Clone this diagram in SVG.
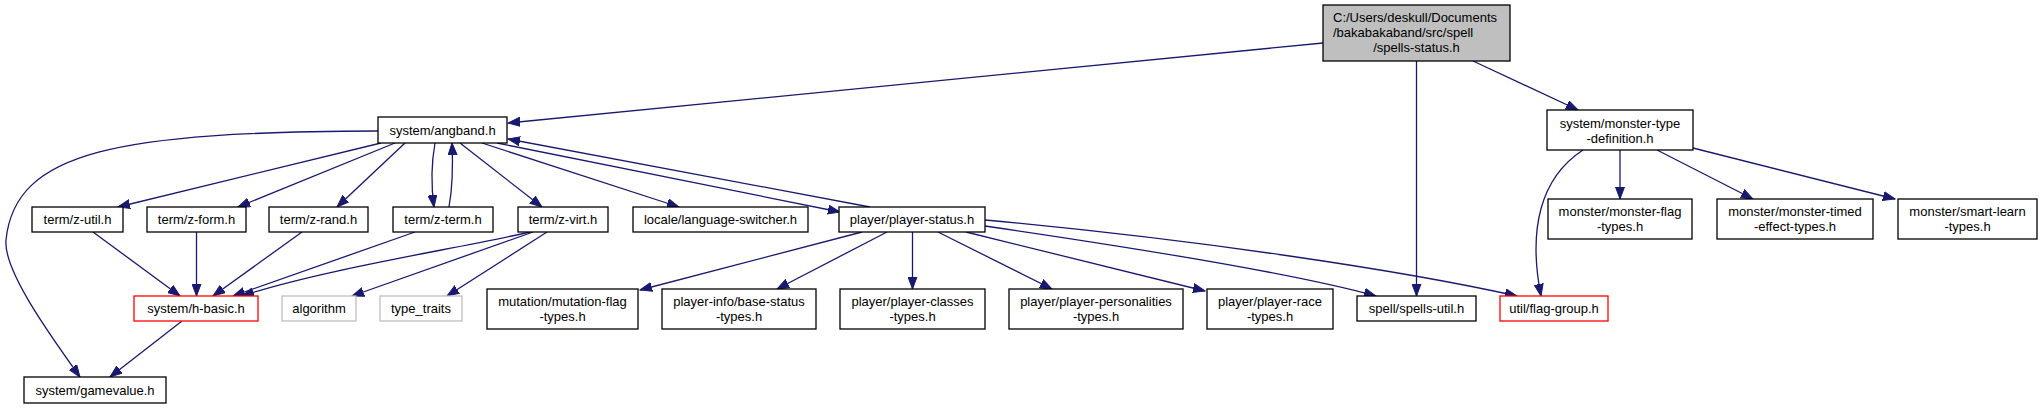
<svg xmlns="http://www.w3.org/2000/svg" width="2042" height="409" viewBox="0 0 2042 409">
<style>
.n rect{fill:#fff;stroke:#000;stroke-width:1.3}
.n.root rect{fill:#bfbfbf}
.n.red rect{stroke:#ff0000}
.n.grey rect{stroke:#bfbfbf}
text{font-family:"Liberation Sans",Arial,sans-serif;font-size:13px;fill:#000;text-anchor:middle}
text.l{text-anchor:start}
.e path{fill:none;stroke:#191970;stroke-width:1.3;marker-end:url(#a)}
</style>
<defs>
<marker id="a" markerUnits="userSpaceOnUse" markerWidth="13" markerHeight="10" refX="12" refY="5" orient="auto">
<path d="M0,0.5 L12,5 L0,9.5 z" fill="#191970" stroke="#191970" stroke-width="1"/>
</marker>
</defs>
<rect width="2042" height="409" fill="#fff"/>
<g class="e" id="connectors">
<path d="M1323,43 L508,123"/>
<path d="M1473,61 L1578,110"/>
<path d="M1416.5,61 L1416.5,296"/>
<path d="M378,131 C120,132 15,150 6,240 C3,270 50,335 80,377"/>
<path d="M381,143 L118,207"/>
<path d="M395,143 L238,207"/>
<path d="M405,143 L337,207"/>
<path d="M435,143 C431,165 431,185 434,207"/>
<path d="M449,207 C453,185 453,165 452,143"/>
<path d="M460,143 L542,207"/>
<path d="M482,143 L679,207"/>
<path d="M497,143 L840,212"/>
<path d="M870,207 L508,139"/>
<path d="M93,232 L180,296"/>
<path d="M196.5,232 L196.5,296"/>
<path d="M302,232 L213,296"/>
<path d="M415,232 L233,296"/>
<path d="M530,232 C450,250 320,270 242,296"/>
<path d="M533,232 L352,296"/>
<path d="M547,232 L447,296"/>
<path d="M182,321 L110,377"/>
<path d="M862,232 L640,290"/>
<path d="M887,232 L777,289"/>
<path d="M912.5,232 L912.5,289"/>
<path d="M938,232 L1052,289"/>
<path d="M966,232 L1205,291"/>
<path d="M985,226 C1150,250 1300,275 1376,296"/>
<path d="M985,220 C1200,240 1400,270 1517,296"/>
<path d="M1583,150 C1540,178 1528,230 1541,296"/>
<path d="M1620,150 L1620,199"/>
<path d="M1657,150 L1753,199"/>
<path d="M1693,148 L1895,199"/>
</g>
<g class="n root" id="node-root"><rect x="1323" y="5" width="187" height="56"/><text class="l" x="1333" y="21.5">C:/Users/deskull/Documents</text><text class="l" x="1333" y="36.5">/bakabakaband/src/spell</text><text x="1416.5" y="51.5">/spells-status.h</text></g>
<g class="n" id="node-angband"><rect x="378" y="117" width="129" height="26"/><text x="442.5" y="134.5">system/angband.h</text></g>
<g class="n" id="node-z-util"><rect x="32" y="207" width="91" height="25"/><text x="77.5" y="224">term/z-util.h</text></g>
<g class="n" id="node-z-form"><rect x="147" y="207" width="99" height="25"/><text x="196.5" y="224">term/z-form.h</text></g>
<g class="n" id="node-z-rand"><rect x="269" y="207" width="99" height="25"/><text x="318.5" y="224">term/z-rand.h</text></g>
<g class="n" id="node-z-term"><rect x="393" y="207" width="100" height="25"/><text x="443" y="224">term/z-term.h</text></g>
<g class="n" id="node-z-virt"><rect x="518" y="207" width="90" height="25"/><text x="563" y="224">term/z-virt.h</text></g>
<g class="n" id="node-locale"><rect x="633" y="207" width="175" height="25"/><text x="720.5" y="224">locale/language-switcher.h</text></g>
<g class="n" id="node-player-status"><rect x="839" y="207" width="146" height="25"/><text x="912" y="224">player/player-status.h</text></g>
<g class="n" id="node-monster-type-def"><rect x="1547" y="110" width="146" height="40"/><text x="1620" y="127.5">system/monster-type</text><text x="1620" y="142.5">-definition.h</text></g>
<g class="n red" id="node-h-basic"><rect x="134" y="296" width="124" height="25"/><text x="196" y="313">system/h-basic.h</text></g>
<g class="n grey" id="node-algorithm"><rect x="282" y="296" width="74" height="25"/><text x="319" y="313">algorithm</text></g>
<g class="n grey" id="node-type-traits"><rect x="380" y="296" width="82" height="25"/><text x="421" y="313">type_traits</text></g>
<g class="n" id="node-mutation"><rect x="487" y="289" width="151" height="40"/><text x="562.5" y="306">mutation/mutation-flag</text><text x="562.5" y="321">-types.h</text></g>
<g class="n" id="node-base-status"><rect x="662" y="289" width="154" height="40"/><text x="739" y="306">player-info/base-status</text><text x="739" y="321">-types.h</text></g>
<g class="n" id="node-player-classes"><rect x="840" y="289" width="145" height="40"/><text x="912.5" y="306">player/player-classes</text><text x="912.5" y="321">-types.h</text></g>
<g class="n" id="node-personalities"><rect x="1009" y="289" width="174" height="40"/><text x="1096" y="306">player/player-personalities</text><text x="1096" y="321">-types.h</text></g>
<g class="n" id="node-player-race"><rect x="1207" y="289" width="126" height="40"/><text x="1270" y="306">player/player-race</text><text x="1270" y="321">-types.h</text></g>
<g class="n" id="node-spells-util"><rect x="1357" y="296" width="119" height="25"/><text x="1416.5" y="313">spell/spells-util.h</text></g>
<g class="n red" id="node-flag-group"><rect x="1500" y="296" width="108" height="25"/><text x="1554" y="313">util/flag-group.h</text></g>
<g class="n" id="node-monster-flag"><rect x="1548" y="199" width="144" height="40"/><text x="1620" y="216">monster/monster-flag</text><text x="1620" y="231">-types.h</text></g>
<g class="n" id="node-monster-timed"><rect x="1717" y="199" width="156" height="40"/><text x="1795" y="216">monster/monster-timed</text><text x="1795" y="231">-effect-types.h</text></g>
<g class="n" id="node-smart-learn"><rect x="1898" y="199" width="139" height="40"/><text x="1967.5" y="216">monster/smart-learn</text><text x="1967.5" y="231">-types.h</text></g>
<g class="n" id="node-gamevalue"><rect x="24" y="377" width="142" height="26"/><text x="95" y="394.5">system/gamevalue.h</text></g>
</svg>
